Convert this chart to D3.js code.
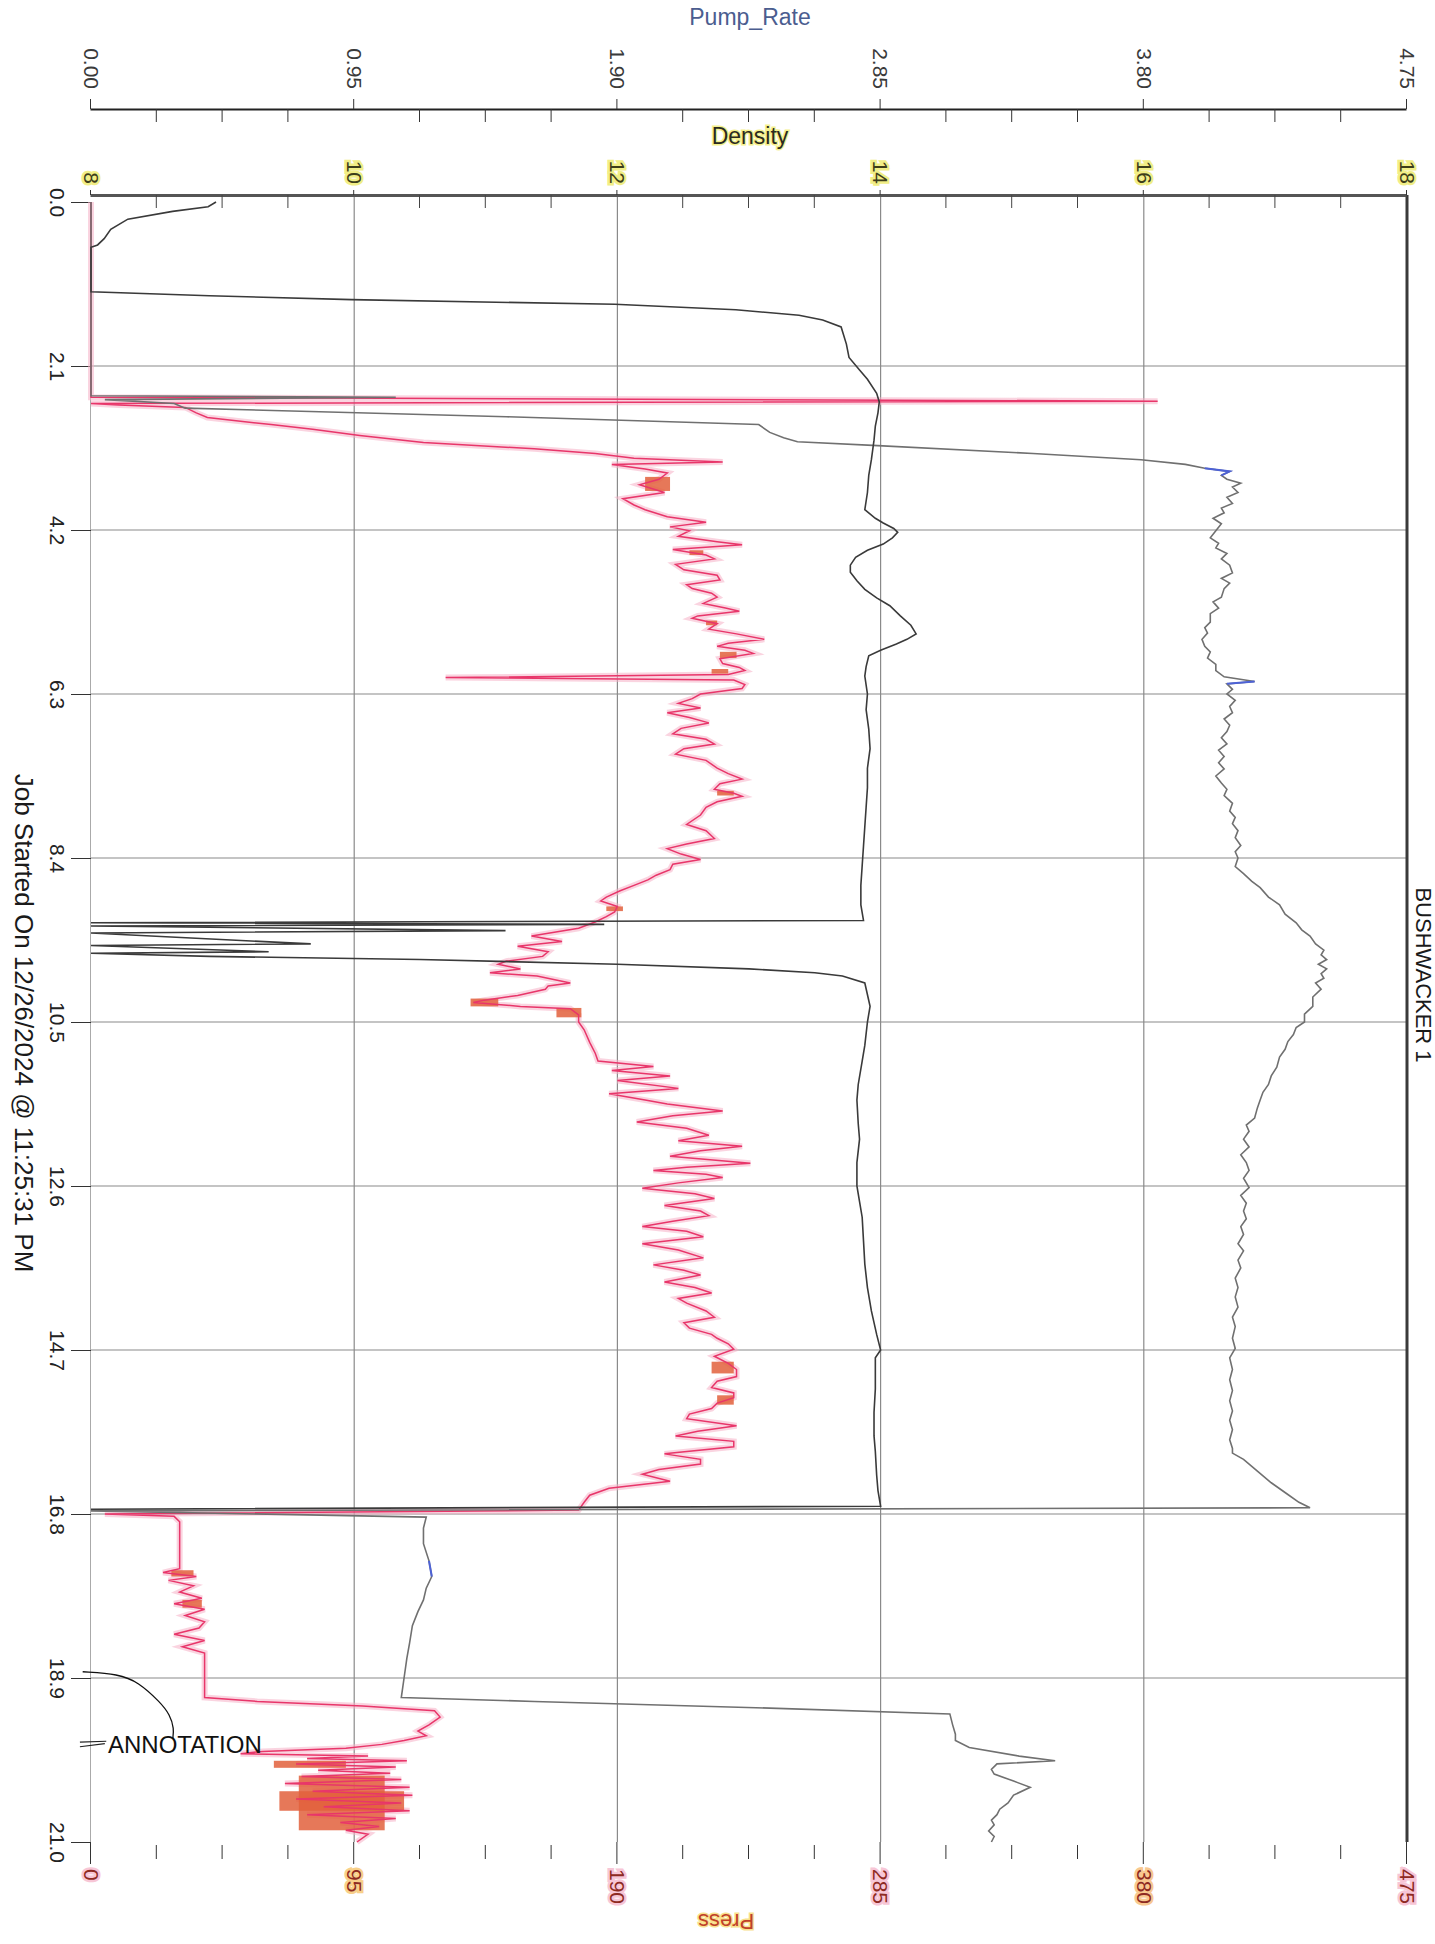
<!DOCTYPE html>
<html>
<head>
<meta charset="utf-8">
<script src="https://cdn.jsdelivr.net/npm/d3@7"></script>
<style>
  body { margin: 0; background: #fff; }
  text { font-family: "Liberation Sans", Arial, sans-serif; }
</style>
</head>
<body>
<svg id="chart"></svg>
<script>
/* Data: time in minutes, values on their own scales */
const timeTicks = [0, 2.1, 4.2, 6.3, 8.4, 10.5, 12.6, 14.7, 16.8, 18.9, 21.0];
const pumpTicks = [0, 0.95, 1.9, 2.85, 3.8, 4.75];
const densityTicks = [8, 10, 12, 14, 16, 18];
const pressTicks = [0, 95, 190, 285, 380, 475];

const pumpSeries = [
  [0, 0], [2.48, 0], [2.50, 1.10], [2.53, 0.05], [2.58, 0.30], [2.64, 0.34], [2.75, 1.5], [2.85, 2.41],
  [2.95, 2.45], [3.02, 2.50], [3.07, 2.55], [3.12, 2.84], [3.22, 3.40], [3.30, 3.79], [3.36, 3.95],
  [3.41, 4.02], [3.45, 4.11], [3.50, 4.08], [3.55, 4.10], [3.60, 4.15], [3.65, 4.12], [3.72, 4.14],
  [3.78, 4.10], [3.86, 4.12], [3.92, 4.08], [3.98, 4.09], [4.05, 4.05], [4.12, 4.08], [4.21, 4.06],
  [4.30, 4.04], [4.37, 4.07], [4.43, 4.06], [4.50, 4.10], [4.57, 4.08], [4.65, 4.11], [4.75, 4.12],
  [4.82, 4.08], [4.88, 4.11], [4.95, 4.09], [5.06, 4.08], [5.12, 4.05], [5.20, 4.07], [5.27, 4.04],
  [5.38, 4.04], [5.45, 4.02], [5.52, 4.03], [5.60, 4.01], [5.69, 4.02], [5.76, 4.04], [5.84, 4.03],
  [5.92, 4.06], [6.00, 4.06], [6.08, 4.09], [6.14, 4.20], [6.17, 4.10], [6.24, 4.12], [6.30, 4.10],
  [6.38, 4.13], [6.46, 4.11], [6.54, 4.12], [6.62, 4.09], [6.70, 4.11], [6.78, 4.10], [6.86, 4.08],
  [6.94, 4.10], [7.02, 4.07], [7.10, 4.09], [7.18, 4.07], [7.26, 4.09], [7.35, 4.06], [7.44, 4.08],
  [7.52, 4.10], [7.60, 4.09], [7.70, 4.12], [7.80, 4.11], [7.88, 4.13], [7.96, 4.12], [8.05, 4.14],
  [8.14, 4.13], [8.24, 4.15], [8.32, 4.13], [8.40, 4.14], [8.51, 4.13], [8.60, 4.16], [8.70, 4.19],
  [8.78, 4.22], [8.90, 4.25], [9.00, 4.29], [9.12, 4.31], [9.23, 4.35], [9.32, 4.37], [9.40, 4.40],
  [9.50, 4.42], [9.58, 4.45], [9.64, 4.44], [9.70, 4.46], [9.76, 4.43], [9.82, 4.46], [9.88, 4.44],
  [9.94, 4.45], [10.00, 4.42], [10.08, 4.44], [10.18, 4.41], [10.30, 4.41], [10.40, 4.38],
  [10.50, 4.38], [10.57, 4.35], [10.66, 4.34], [10.75, 4.32], [10.85, 4.31], [10.95, 4.29],
  [11.08, 4.28], [11.19, 4.26], [11.30, 4.25], [11.40, 4.23], [11.50, 4.22], [11.60, 4.21],
  [11.73, 4.20], [11.82, 4.17], [11.90, 4.18], [12.00, 4.16], [12.10, 4.18], [12.20, 4.15],
  [12.30, 4.17], [12.40, 4.18], [12.50, 4.16], [12.62, 4.18], [12.72, 4.15], [12.82, 4.17],
  [12.92, 4.16], [13.02, 4.17], [13.12, 4.15], [13.22, 4.16], [13.34, 4.14], [13.43, 4.16],
  [13.55, 4.14], [13.65, 4.15], [13.78, 4.13], [13.90, 4.14], [14.02, 4.13], [14.15, 4.14],
  [14.28, 4.12], [14.40, 4.13], [14.55, 4.12], [14.68, 4.13], [14.80, 4.11], [14.95, 4.12],
  [15.08, 4.11], [15.22, 4.12], [15.35, 4.11], [15.48, 4.12], [15.60, 4.11], [15.72, 4.12],
  [15.85, 4.11], [15.96, 4.12], [16.02, 4.12], [16.10, 4.16], [16.25, 4.21], [16.40, 4.26],
  [16.55, 4.32], [16.65, 4.36], [16.72, 4.40], [16.76, 0], [16.84, 1.21], [16.98, 1.20],
  [17.18, 1.20], [17.40, 1.22], [17.60, 1.23], [17.75, 1.21], [17.90, 1.20], [18.05, 1.18],
  [18.23, 1.16], [18.45, 1.15], [18.65, 1.14], [18.90, 1.13], [19.15, 1.12], [19.20, 1.60],
  [19.28, 2.40], [19.36, 3.10], [19.50, 3.11], [19.62, 3.12], [19.70, 3.12], [19.79, 3.17],
  [19.90, 3.35], [19.96, 3.48], [20.00, 3.27], [20.07, 3.25], [20.13, 3.26], [20.22, 3.33],
  [20.30, 3.39], [20.40, 3.33], [20.50, 3.31], [20.58, 3.28], [20.65, 3.27], [20.72, 3.25],
  [20.78, 3.26], [20.86, 3.24], [20.93, 3.26], [21.0, 3.25]
];
const pumpBlueRanges = [[3.40, 3.52], [6.12, 6.19], [17.30, 17.70], [18.95, 19.15], [20.26, 20.34]];

const densitySeries = [
  [0, 8.95], [0.06, 8.89], [0.12, 8.62], [0.22, 8.28], [0.35, 8.15], [0.47, 8.10], [0.55, 8.05],
  [0.58, 8.0], [1.15, 8.0], [1.20, 8.9], [1.25, 9.98], [1.31, 11.98], [1.38, 12.9], [1.45, 13.38],
  [1.51, 13.56], [1.60, 13.70], [1.82, 13.74], [1.99, 13.76], [2.15, 13.84], [2.27, 13.90],
  [2.45, 13.97], [2.56, 13.99], [2.70, 13.98], [2.87, 13.96], [3.05, 13.95], [3.30, 13.93],
  [3.50, 13.91], [3.72, 13.90], [3.94, 13.88], [4.05, 13.96], [4.11, 14.02], [4.18, 14.10],
  [4.23, 14.13], [4.30, 14.09], [4.38, 14.02], [4.46, 13.90], [4.55, 13.81], [4.65, 13.77],
  [4.74, 13.77], [4.85, 13.82], [4.96, 13.88], [5.07, 13.97], [5.17, 14.07], [5.30, 14.15],
  [5.42, 14.23], [5.53, 14.27], [5.60, 14.20], [5.66, 14.12], [5.74, 14.00], [5.81, 13.91],
  [5.95, 13.89], [6.07, 13.88], [6.30, 13.90], [6.50, 13.89], [6.75, 13.91], [7.00, 13.92],
  [7.25, 13.90], [7.50, 13.90], [7.75, 13.89], [8.00, 13.88], [8.25, 13.87], [8.50, 13.86],
  [8.75, 13.85], [9.00, 13.85], [9.20, 13.87], [9.23, 8.0], [9.25, 11.9], [9.27, 8.0],
  [9.33, 11.15], [9.36, 8.0], [9.50, 9.67], [9.52, 8.0], [9.60, 9.35], [9.62, 8.0], [9.66, 8.9],
  [9.70, 10.5], [9.76, 12.0], [9.82, 13.0], [9.87, 13.5], [9.91, 13.71], [10.0, 13.88],
  [10.3, 13.92], [10.5, 13.90], [10.8, 13.88], [11.0, 13.86], [11.3, 13.83], [11.5, 13.82],
  [11.8, 13.83], [12.0, 13.84], [12.3, 13.82], [12.6, 13.82], [12.8, 13.84], [13.0, 13.86],
  [13.3, 13.87], [13.6, 13.88], [13.9, 13.90], [14.2, 13.93], [14.5, 13.97], [14.7, 14.0],
  [14.8, 13.96], [15.0, 13.96], [15.2, 13.96], [15.5, 13.95], [15.8, 13.95], [16.0, 13.96],
  [16.3, 13.97], [16.5, 13.98], [16.7, 14.0], [16.74, 8.0]
];

const pressSeries = [
  [0, 0], [2.50, 0], [2.55, 385], [2.58, 0], [2.60, 10], [2.63, 34], [2.70, 38], [2.76, 42],
  [2.85, 65], [2.91, 80], [2.99, 97], [3.08, 120], [3.16, 160], [3.22, 182], [3.28, 196],
  [3.33, 228], [3.36, 188], [3.42, 200], [3.47, 208], [3.55, 205], [3.62, 198], [3.72, 207],
  [3.80, 192], [3.88, 196], [3.94, 200], [4.03, 208], [4.10, 222], [4.16, 209], [4.21, 216],
  [4.28, 212], [4.35, 226], [4.39, 235], [4.45, 210], [4.52, 222], [4.57, 225], [4.64, 211],
  [4.71, 214], [4.78, 226], [4.84, 227], [4.90, 215], [4.95, 217], [5.01, 224], [5.06, 226],
  [5.14, 221], [5.20, 229], [5.24, 234], [5.30, 219], [5.33, 217], [5.40, 226], [5.47, 223],
  [5.53, 233], [5.60, 243], [5.65, 230], [5.69, 226], [5.74, 236], [5.78, 239], [5.85, 227],
  [5.91, 228], [5.96, 234], [6.00, 236], [6.05, 230], [6.09, 128], [6.12, 232], [6.18, 236],
  [6.23, 235], [6.30, 220], [6.36, 217], [6.42, 212], [6.48, 220], [6.54, 208], [6.60, 216],
  [6.67, 223], [6.74, 213], [6.81, 210], [6.88, 222], [6.94, 225], [7.00, 214], [7.07, 211],
  [7.15, 222], [7.25, 226], [7.32, 230], [7.39, 235], [7.45, 227], [7.52, 225], [7.57, 232],
  [7.61, 235], [7.68, 226], [7.75, 222], [7.85, 220], [7.97, 215], [8.05, 222], [8.15, 225],
  [8.22, 215], [8.28, 208], [8.35, 213], [8.42, 220], [8.48, 210], [8.55, 209], [8.62, 204],
  [8.68, 201], [8.75, 196], [8.82, 191], [8.90, 186], [8.95, 184], [9.02, 190], [9.09, 189],
  [9.15, 186], [9.22, 182], [9.30, 176], [9.40, 159], [9.47, 170], [9.53, 154], [9.60, 165],
  [9.66, 163], [9.72, 150], [9.76, 147], [9.82, 155], [9.87, 144], [9.91, 161], [10.00, 173],
  [10.04, 165], [10.08, 164], [10.16, 154], [10.22, 142], [10.25, 138], [10.30, 155], [10.33, 173],
  [10.41, 176], [10.50, 176], [10.60, 178], [10.76, 180], [10.90, 182], [11.00, 183], [11.07, 203],
  [11.12, 188], [11.19, 209], [11.25, 190], [11.35, 212], [11.42, 187], [11.50, 200], [11.55, 208],
  [11.64, 228], [11.70, 210], [11.78, 197], [11.86, 215], [11.95, 223], [12.02, 212], [12.09, 235],
  [12.15, 220], [12.22, 209], [12.31, 238], [12.36, 215], [12.40, 203], [12.45, 222], [12.49, 228],
  [12.56, 212], [12.63, 199], [12.70, 218], [12.76, 225], [12.85, 207], [12.92, 220], [12.98, 223],
  [13.05, 210], [13.12, 199], [13.18, 215], [13.25, 221], [13.34, 199], [13.42, 212], [13.52, 221],
  [13.61, 203], [13.68, 214], [13.74, 220], [13.83, 207], [13.90, 218], [13.97, 224], [14.04, 212],
  [14.10, 215], [14.20, 222], [14.28, 225], [14.35, 214], [14.42, 216], [14.50, 224], [14.55, 226],
  [14.62, 230], [14.69, 232], [14.78, 225], [14.87, 230], [14.95, 233], [15.04, 233], [15.10, 226],
  [15.18, 224], [15.25, 232], [15.31, 232], [15.38, 226], [15.45, 224], [15.52, 216], [15.58, 215],
  [15.67, 233], [15.74, 219], [15.80, 211], [15.87, 232], [15.94, 232], [16.03, 207], [16.10, 220],
  [16.16, 220], [16.23, 205], [16.29, 199], [16.38, 209], [16.47, 187], [16.56, 180], [16.65, 178],
  [16.75, 176], [16.80, 5], [16.83, 30], [16.90, 32], [17.50, 32], [17.55, 26], [17.60, 38],
  [17.65, 28], [17.72, 37], [17.80, 32], [17.88, 40], [17.95, 30], [18.02, 41], [18.10, 34],
  [18.18, 41], [18.26, 39], [18.34, 30], [18.42, 41], [18.50, 33], [18.58, 41], [18.65, 41],
  [19.15, 41], [19.20, 60], [19.26, 98], [19.32, 124], [19.40, 126], [19.50, 122], [19.58, 118],
  [19.64, 121], [19.70, 113], [19.75, 105], [19.80, 92], [19.84, 62], [19.87, 54], [19.90, 100],
  [19.93, 78], [19.96, 114], [20.00, 74], [20.04, 110], [20.08, 82], [20.12, 108], [20.16, 76],
  [20.20, 112], [20.25, 70], [20.30, 115], [20.35, 80], [20.40, 116], [20.45, 74], [20.50, 112],
  [20.55, 84], [20.60, 115], [20.65, 78], [20.70, 110], [20.75, 90], [20.80, 104], [20.85, 92],
  [20.90, 100], [21.0, 96]
];
/* dense, smudged stretches of the pressure trace: [t0, t1, low, high] */
const pressBlobs = [
  [3.52, 3.70, 200, 209], [4.46, 4.52, 216, 221], [5.36, 5.42, 222, 226], [5.76, 5.84, 227, 233],
  [5.98, 6.04, 224, 230], [7.54, 7.60, 226, 232], [9.02, 9.08, 186, 192], [10.20, 10.30, 137, 147],
  [10.32, 10.44, 168, 177], [14.85, 15.00, 224, 232], [15.28, 15.40, 226, 232], [17.52, 17.60, 29, 37],
  [17.90, 18.00, 33, 40], [19.96, 20.05, 66, 92], [20.15, 20.85, 75, 106], [20.35, 20.60, 68, 113]
];
/* hand-drawn annotation leader, in time / pump-rate units */
const annotationCurve = [[18.82, -0.03], [18.85, 0.10], [18.95, 0.17], [19.21, 0.25], [19.37, 0.285], [19.55, 0.30], [19.68, 0.295]];
const annotationArrow = [[[19.72, -0.04], [19.71, 0.055]], [[19.78, -0.04], [19.74, 0.05]]];

/* Layout (screen coords of the plot frame) */
const W = 1435, H = 1944;
const X0 = 91, X1 = 1407;   // value axis, left/right
const Y0 = 195;             // density axis line (top edge)
const T0 = 202, T1 = 1842;  // time 0 and 21
const FONT = '"Liberation Sans", Arial, sans-serif';

const svg = d3.select("#chart").attr("width", W).attr("height", H);
svg.append("rect").attr("width", W).attr("height", H).attr("fill", "#fff");

/* The printout is turned a quarter: draw the chart upright and rotate it */
const g = svg.append("g").attr("transform", `translate(${W},0) rotate(90)`);

const t = d3.scaleLinear().domain([0, 21]).range([T0, T1]);
const yPump = d3.scaleLinear().domain([0, 4.75]).range([W - X0, W - X1]);
const yDens = d3.scaleLinear().domain([8, 18]).range([W - X0, W - X1]);
const yPress = d3.scaleLinear().domain([0, 475]).range([W - X0, W - X1]);

/* Grid */
g.append("g").selectAll("line").data(timeTicks.slice(1, -1)).join("line")
  .attr("x1", d => t(d)).attr("x2", d => t(d))
  .attr("y1", yPump(0)).attr("y2", yPump(4.75))
  .attr("stroke", "#8a8a8a").attr("stroke-width", 1.2);
g.append("g").selectAll("line").data(pumpTicks.slice(1, -1)).join("line")
  .attr("x1", Y0).attr("x2", T1)
  .attr("y1", d => yPump(d)).attr("y2", d => yPump(d))
  .attr("stroke", "#8a8a8a").attr("stroke-width", 1.2);

/* Right frame edge (top of the upright chart) */
g.append("line").attr("x1", Y0).attr("x2", T1)
  .attr("y1", yPump(4.75)).attr("y2", yPump(4.75))
  .attr("stroke", "#3a3a3a").attr("stroke-width", 3);

function styleAxis(sel, size, fill) {
  sel.attr("font-family", FONT);
  sel.selectAll("text").attr("font-size", size).attr("fill", fill);
  sel.selectAll(".tick line").attr("stroke", "#333");
}

/* Pump_Rate axis */
const pumpMinor = d3.range(0, 4.76, 0.2375).filter((d, i) => i % 4 !== 0);
g.append("g").attr("transform", "translate(109,0)")
  .call(d3.axisLeft(yPump).tickValues(pumpTicks).tickFormat(d3.format(".2f"))
    .tickSize(10).tickPadding(10).tickSizeOuter(0))
  .call(a => styleAxis(a, 21, "#3a3a3a"))
  .call(a => a.select(".domain").attr("stroke", "#222").attr("stroke-width", 1.8));
g.append("g").attr("transform", "translate(109,0)")
  .call(d3.axisRight(yPump).tickValues(pumpMinor).tickSize(13).tickFormat(""))
  .call(a => a.select(".domain").remove())
  .call(a => a.selectAll("line").attr("stroke", "#333"));

/* Density axis (top edge of the plot) */
const densMinor = d3.range(8, 18.01, 0.5).filter((d, i) => i % 4 !== 0);
g.append("g").attr("transform", `translate(${Y0},0)`)
  .call(d3.axisLeft(yDens).tickValues(densityTicks).tickSize(5).tickPadding(6).tickSizeOuter(0))
  .call(a => styleAxis(a, 21, "#3d3d1a"))
  .call(a => a.selectAll("text").style("paint-order", "stroke").attr("stroke", "#f1ee86").attr("stroke-width", 5))
  .call(a => a.select(".domain").attr("stroke", "#555").attr("stroke-width", 3));
g.append("g").attr("transform", `translate(${Y0},0)`)
  .call(d3.axisRight(yDens).tickValues(densMinor).tickSize(13).tickFormat(""))
  .call(a => a.select(".domain").remove())
  .call(a => a.selectAll("line").attr("stroke", "#444"));

/* Time axis (left edge) */
g.append("g").attr("transform", `translate(0,${W - X0})`)
  .call(d3.axisBottom(t).tickValues(timeTicks).tickFormat(d3.format(".1f"))
    .tickSize(20).tickPadding(6).tickSizeOuter(0))
  .call(a => styleAxis(a, 21, "#222"))
  .call(a => a.select(".domain").attr("stroke", "#aaa"));

/* Press axis (bottom) */
const pressMinor = d3.range(0, 475.1, 23.75).filter((d, i) => i % 4 !== 0);
const pressHi = ["#f7c6d6", "#f8d08a", "#f7c6d6", "#f7c6d6", "#f8c890", "#f7c6d6"];
g.append("g").attr("transform", `translate(${T1},0)`)
  .call(d3.axisRight(yPress).tickValues(pressTicks).tickSize(22).tickPadding(5))
  .call(a => a.select(".domain").remove())
  .call(a => styleAxis(a, 21, "#8e2a22"))
  .call(a => a.selectAll("text").style("paint-order", "stroke")
    .attr("stroke", (d, i) => pressHi[i]).attr("stroke-width", 5));
g.append("g").attr("transform", `translate(${T1 + 3},0)`)
  .call(d3.axisRight(yPress).tickValues(pressMinor).tickSize(14).tickFormat(""))
  .call(a => a.select(".domain").remove())
  .call(a => a.selectAll("line").attr("stroke", "#333"));

/* Series */
const linePump = d3.line().x(d => t(d[0])).y(d => yPump(d[1]));
const lineDens = d3.line().x(d => t(d[0])).y(d => yDens(d[1]));
const linePress = d3.line().x(d => t(d[0])).y(d => yPress(d[1]));

g.append("path").datum(pressSeries).attr("d", linePress)
  .attr("fill", "none").attr("stroke", "#f6b0c6").attr("stroke-width", 6).attr("stroke-opacity", 0.55);

g.append("g").selectAll("rect").data(pressBlobs).join("rect")
  .attr("x", d => t(d[0])).attr("width", d => t(d[1]) - t(d[0]))
  .attr("y", d => yPress(d[3])).attr("height", d => yPress(d[2]) - yPress(d[3]))
  .attr("fill", "#e2603c").attr("opacity", 0.85);

g.append("path").datum(pressSeries).attr("d", linePress)
  .attr("fill", "none").attr("stroke", "#e8366a").attr("stroke-width", 1.5);

g.append("path").datum(pumpSeries).attr("d", linePump)
  .attr("fill", "none").attr("stroke", "#707070").attr("stroke-width", 1.6);
g.append("g").selectAll("path").data(pumpBlueRanges).join("path")
  .attr("d", r => linePump(pumpSeries.filter(p => p[0] >= r[0] && p[0] <= r[1])))
  .attr("fill", "none").attr("stroke", "#4d62d6").attr("stroke-width", 2);

g.append("path").datum(densitySeries).attr("d", lineDens)
  .attr("fill", "none").attr("stroke", "#3a3a3a").attr("stroke-width", 1.6);

/* Annotation leader */
g.append("path").datum(annotationCurve).attr("d", linePump.curve(d3.curveBasis))
  .attr("fill", "none").attr("stroke", "#111").attr("stroke-width", 1.3);
linePump.curve(d3.curveLinear);
g.append("g").selectAll("path").data(annotationArrow).join("path")
  .attr("d", linePump).attr("fill", "none").attr("stroke", "#222").attr("stroke-width", 1.2);

/* Titles and notes (screen orientation) */
svg.append("text").attr("x", 750).attr("y", 25).attr("text-anchor", "middle")
  .attr("font-family", FONT).attr("font-size", 23).attr("fill", "#4b5d8f").text("Pump_Rate");
svg.append("text").attr("x", 750).attr("y", 144).attr("text-anchor", "middle")
  .attr("font-family", FONT).attr("font-size", 23).attr("fill", "#2a2a20")
  .style("paint-order", "stroke").attr("stroke", "#f4f08c").attr("stroke-width", 3).text("Density");
svg.append("text").attr("transform", "translate(726,1914) rotate(180)").attr("text-anchor", "middle")
  .attr("font-family", FONT).attr("font-size", 22).attr("fill", "#c0402a")
  .style("paint-order", "stroke").attr("stroke", "#f8e08c").attr("stroke-width", 3).text("Press");
svg.append("text").attr("transform", "translate(1416,975) rotate(90)").attr("text-anchor", "middle")
  .attr("font-family", FONT).attr("font-size", 22).attr("fill", "#1a1a1a").text("BUSHWACKER 1");
svg.append("text").attr("transform", "translate(15,1023) rotate(90)").attr("text-anchor", "middle")
  .attr("font-family", FONT).attr("font-size", 26).attr("fill", "#1a1a1a")
  .text("Job Started On 12/26/2024 @ 11:25:31 PM");
svg.append("text").attr("x", 108).attr("y", 1753)
  .attr("font-family", FONT).attr("font-size", 24).attr("fill", "#111").text("ANNOTATION");
</script>
</body>
</html>
